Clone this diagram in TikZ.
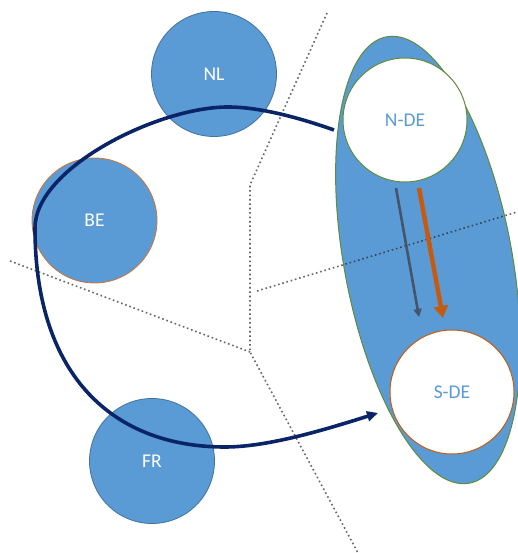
\documentclass[tikz,border=0pt]{standalone}
\usepackage{fontspec}
\setmainfont{Carlito}
\usetikzlibrary{arrows.meta,shapes.geometric}
\definecolor{cblue}{HTML}{5B9BD5}
\definecolor{cedge}{HTML}{41719C}
\definecolor{cgreen}{HTML}{5E8C3A}
\definecolor{corange}{HTML}{C55A11}
\definecolor{cnavy}{HTML}{0A2468}
\definecolor{cslate}{HTML}{44546A}
\begin{document}
\begin{tikzpicture}[x=1pt,y=1pt,
  lbl/.style={font=\fontsize{19.5}{20}\selectfont},
  region/.style={circle, minimum size=125pt, inner sep=0pt, fill=cblue,
    text=white, lbl, line width=0.8pt},
  zone/.style={circle, minimum size=124pt, inner sep=0pt, fill=white,
    text=cblue, lbl, line width=1pt},
  border/.style={draw=black!85, opacity=0.7, line width=1.6pt,
    dash pattern=on 1.6pt off 2.8pt},
  flow/.style={draw=cnavy, line width=3.6pt,
    -{Triangle[length=11pt,width=10pt]}},
]
\useasboundingbox (0,0) rectangle (517,553);

% Germany as one market area, split into two zones
\node[ellipse, draw=cgreen, fill=cblue, line width=1pt, inner sep=0pt,
      minimum width=168pt, minimum height=454pt, rotate=10.5] (DE) at (428,293) {};
\node[zone, draw=cgreen] (NDE) at (405,433) {N-DE};
\node[zone, draw=corange] (SDE) at (452,161) {S-DE};

% neighbouring countries
\node[region, draw=cedge] (NL) at (214,479) {NL};
\node[region, draw=corange!85] (BE) at (94.5,332.5) {BE};
\node[region, draw=cedge] (FR) at (152,92) {FR};

% borders
\coordinate (b0) at (327,540);
\coordinate (b1) at (250,368);
\coordinate (b2) at (250,201);
\coordinate (b3) at (10,292);
\coordinate (b4) at (358,0);
\coordinate (b5) at (257,262);
\coordinate (b6) at (517,341);
\draw[border] (b0) -- (b1) -- (b2) -- (b4);
\draw[border] (b3) -- (b2);
\draw[border] (b5) -- (b6);

% loop flow around through the neighbours
\coordinate (f0) at (334,423);
\coordinate (f1) at (228,446);
\coordinate (f2) at (35,325);
\coordinate (f4) at (225,106);
\coordinate (f5) at (378,140);
\draw[flow] (f0) .. controls (300,435) and (260,446) .. (f1)
  .. controls (158,446) and (35,385) .. (f2)
  .. controls (35,175) and (115,106) .. (f4)
  .. controls (270,106) and (330,125) .. (f5);

% internal north-south flows
\coordinate (g0) at (396,365);
\coordinate (g1) at (419,236);
\coordinate (o0) at (419,365);
\coordinate (o1) at (443,235);
\draw[draw=cslate, line width=2.6pt, -{Triangle[length=8pt,width=8pt]}] (g0) -- (g1);
\draw[draw=corange, line width=4.5pt, -{Triangle[length=12pt,width=14pt]}] (o0) -- (o1);
\end{tikzpicture}
\end{document}
